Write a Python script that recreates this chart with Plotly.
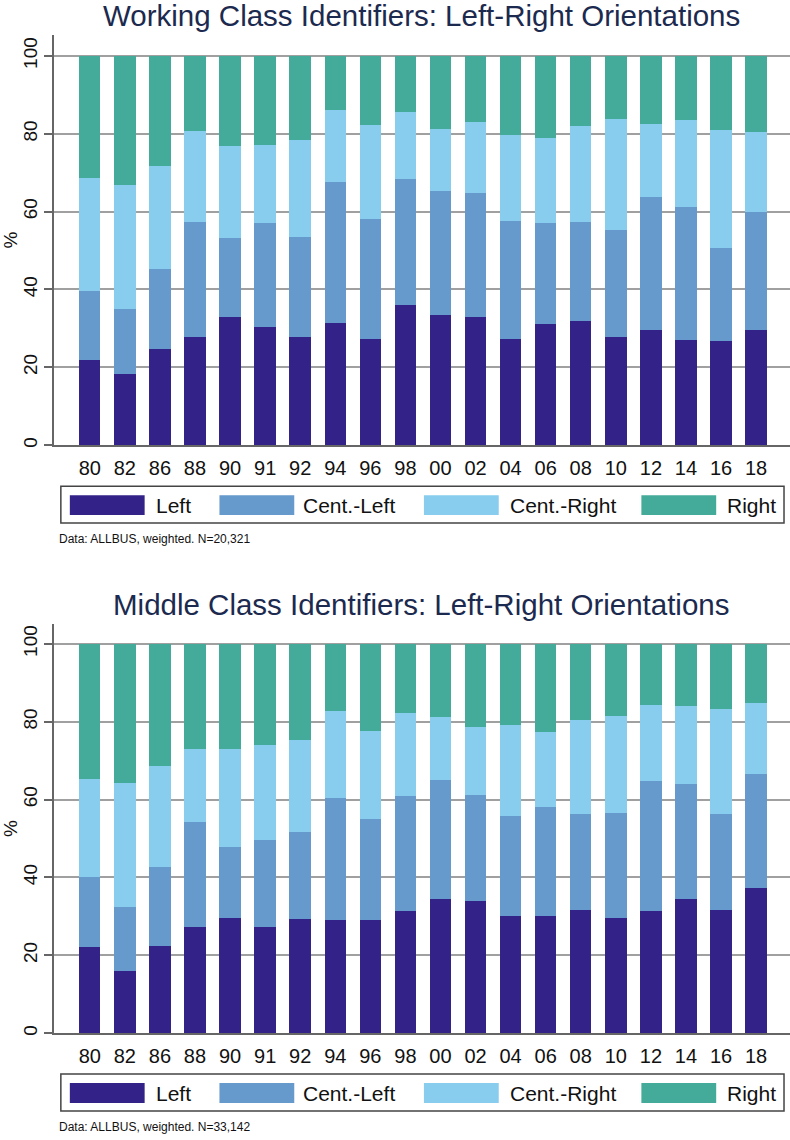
import plotly.graph_objects as go

years = ["80", "82", "86", "88", "90", "91", "92", "94", "96", "98",
         "00", "02", "04", "06", "08", "10", "12", "14", "16", "18"]
series_names = ["Left", "Cent.-Left", "Cent.-Right", "Right"]
colors = ["#332288", "#6699CC", "#88CCEE", "#44AA99"]

# Working class identifiers (shares, %)
wc_left = [22.0, 18.4, 24.8, 27.9, 33.0, 30.3, 27.8, 31.5, 27.3, 36.1,
           33.5, 32.9, 27.4, 31.2, 32.0, 27.9, 29.5, 27.1, 26.7, 29.5]
wc_cleft = [17.5, 16.7, 20.5, 29.5, 20.3, 26.8, 25.7, 36.0, 30.7, 32.3,
            31.8, 31.8, 30.2, 25.9, 25.4, 27.4, 34.3, 34.1, 23.9, 30.5]
wc_cright = [29.2, 31.7, 26.3, 23.2, 23.6, 20.0, 24.9, 18.7, 24.2, 17.3,
             16.0, 18.3, 22.2, 21.9, 24.6, 28.4, 18.7, 22.4, 30.4, 20.5]
wc_right = [31.3, 33.2, 28.4, 19.4, 23.1, 22.9, 21.6, 13.8, 17.8, 14.3,
            18.7, 17.0, 20.2, 21.0, 18.0, 16.3, 17.5, 16.4, 19.0, 19.5]

# Middle class identifiers (shares, %)
mc_left = [22.1, 15.9, 22.5, 27.2, 29.5, 27.2, 29.4, 29.2, 29.2, 31.3,
           34.5, 34.0, 30.1, 30.1, 31.7, 29.5, 31.3, 34.4, 31.6, 37.4]
mc_cleft = [17.9, 16.6, 20.2, 27.1, 18.2, 22.5, 22.2, 31.3, 25.9, 29.6,
            30.5, 27.3, 25.8, 27.9, 24.6, 27.1, 33.5, 29.6, 24.7, 29.3]
mc_cright = [25.2, 31.8, 26.0, 18.8, 25.4, 24.3, 23.7, 22.3, 22.4, 21.3,
             16.2, 17.4, 23.2, 19.4, 24.1, 25.0, 19.6, 20.1, 26.9, 18.2]
mc_right = [34.8, 35.7, 31.3, 26.9, 26.9, 26.0, 24.7, 17.2, 22.5, 17.8,
            18.8, 21.3, 20.9, 22.6, 19.6, 18.4, 15.6, 15.9, 16.8, 15.1]

titles = ["Working Class Identifiers: Left-Right Orientations",
          "Middle Class Identifiers: Left-Right Orientations"]
notes = ["Data: ALLBUS, weighted. N=20,321",
         "Data: ALLBUS, weighted. N=33,142"]

W, H = 790, 1140
FONT = "Arial, 'Liberation Sans', sans-serif"
TITLE_COL = "#1c2a4f"
TXT = "#111111"


def px(x):
    return x / W


def py(y):
    return 1 - y / H


fig = go.Figure()
panels = [
    dict(data=[wc_left, wc_cleft, wc_cright, wc_right], xa="x", ya="y",
         top=35, bottom=446),
    dict(data=[mc_left, mc_cleft, mc_cright, mc_right], xa="x2", ya="y2",
         top=625, bottom=1035),
]

for p in panels:
    for name, col, vals in zip(series_names, colors, p["data"]):
        fig.add_trace(go.Bar(x=years, y=vals, name=name, marker_color=col,
                             marker_line_width=0, width=0.61,
                             xaxis=p["xa"], yaxis=p["ya"], showlegend=False))

shapes = []
annotations = []
ax_common = dict(type="category", range=[-1.024, 19.967], showline=True,
                 linecolor="#666666", linewidth=1.5, ticks="", showgrid=False,
                 tickfont=dict(family=FONT, size=20, color=TXT),
                 zeroline=False, fixedrange=True)

layout_axes = {}
for i, p in enumerate(panels):
    sfx = "" if i == 0 else "2"
    ymax = (p["bottom"] - p["top"]) / 3.9
    layout_axes["xaxis" + sfx] = dict(ax_common, domain=[px(52), 1],
                                      anchor="y" + sfx, ticklabelstandoff=4)
    layout_axes["yaxis" + sfx] = dict(
        domain=[py(p["bottom"]), py(p["top"])], anchor="x" + sfx,
        range=[0, ymax], tickvals=[0, 20, 40, 60, 80, 100],
        ticks="outside", ticklen=8, tickcolor="#666666", tickwidth=1.5,
        tickangle=-90, tickfont=dict(family=FONT, size=19, color=TXT),
        showline=True, linecolor="#666666", linewidth=1.5,
        showgrid=True, gridcolor="#a0a0a0", gridwidth=1.5, zeroline=False,
        title=dict(text="%", font=dict(family=FONT, size=19, color=TXT),
                   standoff=6),
        fixedrange=True)

    # title
    annotations.append(dict(text=titles[i], xref="paper", yref="paper",
                            x=px(421), y=py(p["top"] - 19), xanchor="center",
                            yanchor="middle", showarrow=False,
                            font=dict(family=FONT, size=29.5, color=TITLE_COL)))
    # legend box
    lt = p["bottom"] + 41
    lb = lt + 37
    shapes.append(dict(type="rect", xref="paper", yref="paper",
                       x0=px(59), x1=px(784), y0=py(lb), y1=py(lt),
                       line=dict(color="#444444", width=1.5),
                       fillcolor="white"))
    sw_left = [68, 218, 423, 641]
    tx_left = [154, 302, 509, 727]
    for name, col, sx, tx in zip(series_names, colors, sw_left, tx_left):
        shapes.append(dict(type="rect", xref="paper", yref="paper",
                           x0=px(sx), x1=px(sx + 75),
                           y0=py(lt + 29), y1=py(lt + 9),
                           line=dict(width=0), fillcolor=col))
        annotations.append(dict(text=name, xref="paper", yref="paper",
                                x=px(tx - 2), y=py(lt + 19), xanchor="left",
                                yanchor="middle", showarrow=False,
                                font=dict(family=FONT, size=21, color=TXT)))
    # note
    annotations.append(dict(text=notes[i], xref="paper", yref="paper",
                            x=px(55), y=py(lb + 16), xanchor="left",
                            yanchor="middle", showarrow=False,
                            font=dict(family=FONT, size=12, color=TXT)))

fig.update_layout(width=W, height=H, margin=dict(l=0, r=0, t=0, b=0),
                  barmode="stack", bargap=0.39, plot_bgcolor="white",
                  paper_bgcolor="white", shapes=shapes,
                  annotations=annotations, **layout_axes)

fig.write_html("out.html",
               config={"displayModeBar": False},
               post_script="document.body.style.margin='0';"
                           "document.body.style.overflow='hidden';")
